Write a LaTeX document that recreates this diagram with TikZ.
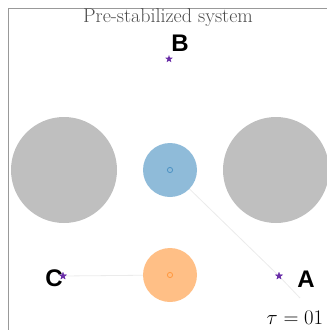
\documentclass[tikz,border=0pt]{standalone}
\usepackage{fontspec}
\newfontfamily\labelfont{Liberation Sans}
\usetikzlibrary{shapes.geometric}
\definecolor{bodygray}{RGB}{191,191,191}
\definecolor{c0}{RGB}{143,187,217}
\definecolor{c1}{RGB}{255,191,134}
\definecolor{c0dark}{RGB}{31,119,180}
\definecolor{c1dark}{RGB}{255,127,14}
\definecolor{starcol}{RGB}{106,47,168}
\tikzset{
  planet/.style={circle, inner sep=0pt, minimum size=#1},
  marker/.style={star, star points=5, star point ratio=2.4, fill=starcol, inner sep=0pt, minimum size=8pt},
  tag/.style={font=\labelfont\bfseries\fontsize{24}{24}\selectfont, inner sep=0pt},
  trail/.style={black!8, line width=0.8pt},
}
\begin{document}
\begin{tikzpicture}[x=1pt, y=-1pt]
	\useasboundingbox (0,0) rectangle (327,330);
	\draw[gray!80, line width=1.5pt] (8.5,330) -- (8.5,8.5) -- (327,8.5);
	\node[font=\fontsize{20}{24}\selectfont, text=black!70] (title) at (168,18) {Pre-stabilized system};
	% test particles and their targets
	\node[marker] (B) at (169,59) {};
	\node[marker] (C) at (63,276) {};
	\node[marker] (A) at (279,276) {};
	\coordinate (tail) at (300,298);
	\coordinate (bc) at (170,170);
	\coordinate (oc) at (170,275);
	\draw[trail] (bc) -- (A.center) -- (tail);
	\draw[trail] (C.center) -- (oc);
	% massive bodies
	\node[planet=106pt, fill=bodygray] (left) at (64,170) {};
	\node[planet=106pt, fill=bodygray] (right) at (276,170) {};
	\node[planet=54pt, fill=c0] (blue) at (bc) {};
	\node[planet=54pt, fill=c1] (orange) at (oc) {};
	\draw[c0dark!80, line width=0.8pt] (blue.center) circle (2.6pt);
	\draw[c1dark!80, line width=0.8pt] (orange.center) circle (2.6pt);
	\node[marker] at (A) {};
	\node[marker] at (C) {};
	\node[tag] (lB) at (180,43) {B};
	\node[tag] (lC) at (54,278) {C};
	\node[tag] (lA) at (306,279) {A};
	\node[font=\fontsize{20}{24}\selectfont] (tau) at (295,318) {$\tau = 01$};
\end{tikzpicture}
\end{document}
